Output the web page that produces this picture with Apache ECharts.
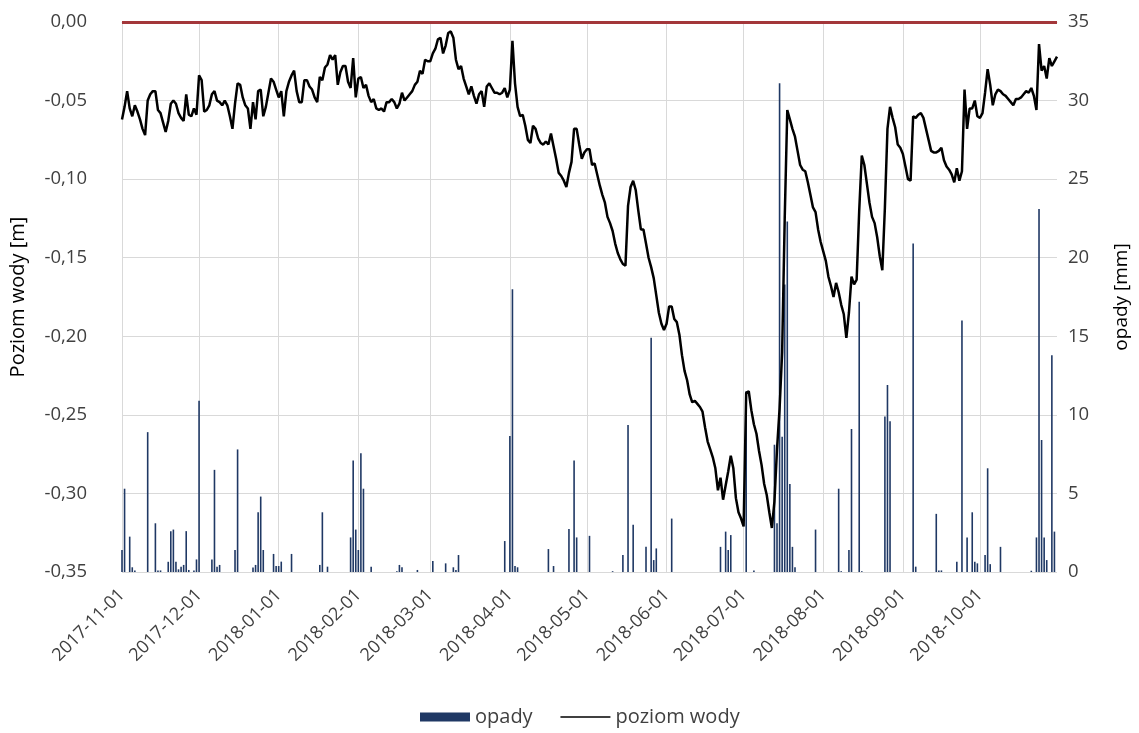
<!DOCTYPE html>
<html><head><meta charset="utf-8">
<script src="https://cdn.jsdelivr.net/npm/echarts@6/dist/echarts.min.js"></script>
<style>html,body{margin:0;padding:0;background:#fff}#c{width:1139px;height:733px}</style>
</head><body><div id="c"></div>
<script>
// ---- data ----
const startYear = 2017, startMonth = 11, startDay = 1;
const dayCount = 365;

// daily water level [m], 2017-11-01 .. 2018-10-31
const waterLevel = [
-0.062,-0.054,-0.044,-0.055,-0.060,-0.053,-0.057,-0.062,-0.068,-0.072,
-0.050,-0.046,-0.044,-0.044,-0.056,-0.058,-0.064,-0.070,-0.063,-0.052,
-0.050,-0.052,-0.058,-0.061,-0.063,-0.046,-0.059,-0.060,-0.055,-0.059,
-0.034,-0.037,-0.057,-0.056,-0.053,-0.046,-0.044,-0.050,-0.051,-0.053,
-0.050,-0.053,-0.060,-0.068,-0.052,-0.039,-0.040,-0.048,-0.053,-0.055,
-0.068,-0.051,-0.062,-0.044,-0.043,-0.060,-0.054,-0.045,-0.036,-0.038,
-0.043,-0.048,-0.044,-0.060,-0.044,-0.038,-0.034,-0.031,-0.044,-0.051,
-0.051,-0.037,-0.037,-0.041,-0.043,-0.048,-0.051,-0.035,-0.037,-0.029,
-0.027,-0.021,-0.024,-0.021,-0.040,-0.032,-0.028,-0.028,-0.038,-0.042,
-0.023,-0.048,-0.036,-0.035,-0.042,-0.040,-0.047,-0.051,-0.049,-0.055,
-0.056,-0.055,-0.057,-0.051,-0.051,-0.049,-0.051,-0.055,-0.052,-0.045,
-0.050,-0.048,-0.046,-0.044,-0.040,-0.038,-0.031,-0.033,-0.024,-0.025,
-0.025,-0.020,-0.017,-0.011,-0.010,-0.020,-0.015,-0.007,-0.006,-0.010,
-0.024,-0.030,-0.028,-0.036,-0.041,-0.046,-0.041,-0.047,-0.052,-0.046,
-0.044,-0.054,-0.041,-0.039,-0.042,-0.045,-0.045,-0.046,-0.045,-0.042,
-0.048,-0.043,-0.012,-0.039,-0.054,-0.060,-0.059,-0.066,-0.075,-0.077,
-0.066,-0.068,-0.074,-0.077,-0.078,-0.076,-0.078,-0.071,-0.079,-0.087,
-0.096,-0.098,-0.101,-0.105,-0.096,-0.089,-0.068,-0.068,-0.078,-0.087,
-0.083,-0.081,-0.081,-0.091,-0.090,-0.097,-0.104,-0.110,-0.115,-0.124,
-0.128,-0.133,-0.141,-0.147,-0.151,-0.154,-0.155,-0.117,-0.105,-0.101,
-0.107,-0.120,-0.132,-0.132,-0.141,-0.150,-0.156,-0.163,-0.174,-0.185,
-0.192,-0.196,-0.192,-0.181,-0.181,-0.189,-0.191,-0.199,-0.212,-0.222,
-0.228,-0.237,-0.242,-0.241,-0.243,-0.245,-0.248,-0.258,-0.267,-0.272,
-0.277,-0.284,-0.298,-0.290,-0.304,-0.295,-0.286,-0.276,-0.284,-0.303,
-0.312,-0.316,-0.321,-0.236,-0.235,-0.247,-0.256,-0.262,-0.273,-0.282,
-0.294,-0.301,-0.312,-0.322,-0.305,-0.272,-0.246,-0.210,-0.125,-0.056,
-0.062,-0.068,-0.073,-0.082,-0.091,-0.094,-0.095,-0.102,-0.110,-0.118,
-0.121,-0.132,-0.140,-0.146,-0.152,-0.162,-0.168,-0.175,-0.166,-0.172,
-0.180,-0.186,-0.201,-0.185,-0.162,-0.167,-0.164,-0.120,-0.085,-0.091,
-0.103,-0.115,-0.124,-0.128,-0.137,-0.149,-0.158,-0.118,-0.068,-0.054,
-0.061,-0.067,-0.078,-0.080,-0.084,-0.092,-0.100,-0.101,-0.060,-0.061,
-0.059,-0.058,-0.061,-0.068,-0.075,-0.082,-0.083,-0.083,-0.082,-0.080,
-0.088,-0.092,-0.094,-0.097,-0.102,-0.093,-0.101,-0.095,-0.043,-0.068,
-0.055,-0.055,-0.050,-0.060,-0.061,-0.058,-0.045,-0.030,-0.040,-0.053,
-0.046,-0.043,-0.044,-0.046,-0.047,-0.049,-0.051,-0.053,-0.049,-0.049,
-0.048,-0.046,-0.044,-0.045,-0.042,-0.047,-0.056,-0.014,-0.031,-0.028,
-0.036,-0.023,-0.028,-0.025,-0.022
];

// daily precipitation [mm] (days with rain only)
const rainDates = [
'2017-11-01','2017-11-02','2017-11-04','2017-11-05','2017-11-06','2017-11-11','2017-11-14','2017-11-15','2017-11-16','2017-11-19',
'2017-11-20','2017-11-21','2017-11-22','2017-11-23','2017-11-24','2017-11-25','2017-11-26','2017-11-27','2017-11-29','2017-11-30',
'2017-12-01','2017-12-06','2017-12-07','2017-12-08','2017-12-09','2017-12-15','2017-12-16','2017-12-22','2017-12-23','2017-12-24',
'2017-12-25','2017-12-26','2017-12-30','2017-12-31',
'2018-01-01','2018-01-02','2018-01-06','2018-01-17','2018-01-18','2018-01-20','2018-01-29','2018-01-30','2018-01-31',
'2018-02-01','2018-02-02','2018-02-03','2018-02-06','2018-02-16','2018-02-17','2018-02-18','2018-02-24',
'2018-03-02','2018-03-07','2018-03-10','2018-03-11','2018-03-12','2018-03-30',
'2018-04-01','2018-04-02','2018-04-03','2018-04-04','2018-04-16','2018-04-18','2018-04-24','2018-04-26','2018-04-27',
'2018-05-02','2018-05-11','2018-05-15','2018-05-17','2018-05-19','2018-05-24','2018-05-26','2018-05-27','2018-05-28',
'2018-06-03','2018-06-22','2018-06-24','2018-06-25','2018-06-26',
'2018-07-02','2018-07-05','2018-07-13','2018-07-14','2018-07-15','2018-07-16','2018-07-17','2018-07-18','2018-07-19','2018-07-20',
'2018-07-21','2018-07-29',
'2018-08-07','2018-08-08','2018-08-11','2018-08-12','2018-08-15','2018-08-16','2018-08-25','2018-08-26','2018-08-27',
'2018-09-05','2018-09-06','2018-09-14','2018-09-15','2018-09-16','2018-09-22','2018-09-24','2018-09-26','2018-09-28','2018-09-29',
'2018-09-30',
'2018-10-03','2018-10-04','2018-10-05','2018-10-09','2018-10-21','2018-10-23','2018-10-24','2018-10-25','2018-10-26','2018-10-27',
'2018-10-29','2018-10-30'
];
const rainMm = [
1.4,5.3,2.25,0.3,0.1,8.9,3.1,0.1,0.1,0.65,
2.6,2.7,0.65,0.17,0.34,0.45,2.6,0.13,0.1,0.8,
10.9,0.8,6.5,0.34,0.45,1.4,7.8,0.28,0.45,3.8,
4.8,1.4,1.15,0.38,
0.38,0.66,1.15,0.45,3.8,0.34,2.2,7.1,2.7,
1.4,7.55,5.3,0.34,0.05,0.45,0.3,0.13,
0.7,0.55,0.3,0.13,1.08,1.97,
8.65,18.0,0.38,0.3,1.46,0.38,2.74,7.1,2.2,
2.3,0.05,1.08,9.35,3.0,1.6,14.9,0.76,1.5,
3.4,1.6,2.57,1.4,2.35,
11.5,0.1,8.1,3.1,31.1,8.6,18.3,22.3,5.6,1.6,
0.3,2.7,
5.3,0.05,1.4,9.1,17.2,0.05,9.9,11.9,9.6,
20.9,0.34,3.7,0.1,0.1,0.66,16.0,2.2,3.8,0.66,
0.55,
1.08,6.6,0.5,1.6,0.08,2.2,23.1,8.4,2.2,0.76,
13.8,2.57
];

const levelMin = -0.35, levelMax = 0.00, levelStep = 0.05;
const rainMin = 0, rainMax = 35, rainStep = 5;
const referenceLevel = 0.00;
const seriesNames = ['opady', 'poziom wody'];
const axisNames = ['Poziom wody [m]', 'opady [mm]'];

// ---- build ----
const categories = [];
const t0 = Date.UTC(startYear, startMonth - 1, startDay);
for (let i = 0; i < dayCount; i++) {
  categories.push(new Date(t0 + i * 86400000).toISOString().slice(0, 10));
}
const rainLookup = {};
rainDates.forEach((d, i) => { rainLookup[d] = rainMm[i]; });
const rainSeries = categories.map(d => (d in rainLookup ? rainLookup[d] : 0));

const isMonthStart = (idx, val) => String(val).slice(8) === '01';
const FONT = 'Open Sans';
const TXT = '#404040';
const GRID = '#D9D9D9';
const BAR = '#1F3864';

const chart = echarts.init(document.getElementById('c'), null, {renderer: 'canvas'});
chart.setOption({
  animation: false,
  backgroundColor: '#fff',
  textStyle: {fontFamily: FONT},
  grid: {left: 122, right: 82, top: 22, bottom: 161, containLabel: false, outerBoundsMode: 'none'},
  legend: {
    bottom: 1, left: 415, itemWidth: 50, itemHeight: 9, itemGap: 27,
    textStyle: {fontSize: 20, color: TXT, fontFamily: FONT},
    data: [
      {name: seriesNames[0], icon: 'rect', itemStyle: {color: BAR}},
      {name: seriesNames[1], itemStyle: {color: '#000', opacity: 0}, lineStyle: {color: '#000', width: 1.6}}
    ]
  },
  xAxis: {
    type: 'category', data: categories, boundaryGap: false,
    axisLine: {show: true, lineStyle: {color: GRID, width: 1}},
    axisTick: {show: false},
    axisLabel: {interval: isMonthStart, rotate: 45, fontSize: 18, color: TXT, margin: 20, fontFamily: FONT},
    splitLine: {show: true, interval: isMonthStart, lineStyle: {color: GRID, width: 1}}
  },
  yAxis: [
    {
      type: 'value', min: levelMin, max: levelMax, interval: levelStep,
      name: axisNames[0], nameLocation: 'middle', nameGap: 94, nameRotate: 90,
      nameTextStyle: {fontSize: 20, color: '#000', fontFamily: FONT},
      axisLine: {show: false}, axisTick: {show: false},
      axisLabel: {fontSize: 18.5, color: TXT, margin: 35, fontFamily: FONT,
        formatter: v => (Math.abs(v) < 1e-9 ? '0,00' : v.toFixed(2).replace('.', ','))},
      splitLine: {show: true, lineStyle: {color: GRID, width: 1}}
    },
    {
      type: 'value', min: rainMin, max: rainMax, interval: rainStep, position: 'right',
      name: axisNames[1], nameLocation: 'middle', nameGap: 55, nameRotate: 90,
      nameTextStyle: {fontSize: 19, color: '#000', fontFamily: FONT},
      axisLine: {show: false}, axisTick: {show: false},
      axisLabel: {fontSize: 18.5, color: TXT, margin: 11, fontFamily: FONT},
      splitLine: {show: false}
    }
  ],
  series: [
    {
      name: seriesNames[0], type: 'bar', yAxisIndex: 1, data: rainSeries,
      barWidth: 1.6, itemStyle: {color: BAR}, z: 2
    },
    {
      name: seriesNames[1], type: 'line', yAxisIndex: 0, data: waterLevel,
      symbol: 'none', showSymbol: false, itemStyle: {color: '#000'},
      lineStyle: {color: '#000', width: 2.5}, z: 3,
      markLine: {
        silent: true, symbol: ['none', 'none'], label: {show: false},
        lineStyle: {color: '#A3373A', width: 3, type: 'solid'},
        data: [{yAxis: referenceLevel}]
      }
    }
  ]
});
</script>
</body></html>
